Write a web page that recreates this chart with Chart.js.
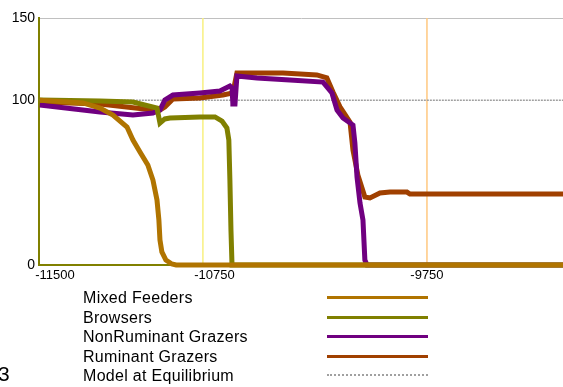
<!DOCTYPE html>
<html>
<head>
<title>Herbivore Populations</title>
<script src="https://cdn.jsdelivr.net/npm/chart.js"></script>
<style>
  body { margin: 0; width: 563px; height: 387px; overflow: hidden; background: #fff; position: relative;
         font-family: "Liberation Sans", Arial, sans-serif; }
  #chart { position: absolute; left: 0; top: 0; }
  #legend { position: absolute; left: 83px; top: 288px; }
  .row { position: relative; height: 19.5px; font-size: 16px; line-height: 19.5px; letter-spacing: 0.3px; color: #000; }
  .swatch { position: absolute; left: 244px; top: 8px; width: 101px; height: 0; }
  #corner { position: absolute; left: -2px; top: 362px; font-size: 21px; }
</style>
</head>
<body>
<canvas id="chart" width="563" height="290"></canvas>
<div id="legend"></div>
<div id="corner">3</div>
<script>
  // axis range and ticks
  const xMin = -11575;
  const xMax = -9110;
  const xTicks = [-11500, -10750, -9750, -9000];
  const yTicks = [0, 100, 150];

  const seriesNames = ['Mixed Feeders', 'Browsers', 'NonRuminant Grazers', 'Ruminant Grazers', 'Model at Equilibrium'];
  const seriesColors = ['#b07400', '#808000', '#700080', '#a04000', '#a0a0a0'];

  const mixedX = [-11571, -11368, -11288, -11227, -11161, -11133, -11100, -11063, -11039, -11020, -11011, -11006, -10997, -10978, -10950, -10930, -9000];
  const mixedY = [100, 98.4, 95.3, 91.1, 83.8, 75.9, 68.6, 60.7, 51.6, 39.5, 27.3, 15.2, 7.9, 3, 0.6, 0, 0];

  const browsersX = [-11571, -11288, -11133, -11020, -11006, -10983, -10959, -10818, -10747, -10714, -10691, -10682, -10677, -10672, -10667, -9000];
  const browsersY = [100.2, 99.6, 99, 95.3, 86.2, 88.7, 89.3, 89.9, 89.9, 87.4, 83.2, 75.9, 51.6, 21.3, 0, 0];

  const nonRumX = [-11571, -11288, -11133, -11039, -11006, -10983, -10945, -10818, -10724, -10677, -10667, -10663, -10653, -10644, -10550, -10395, -10239, -10197, -10173, -10145, -10098, -10089, -10079, -10065, -10051, -10042, -10032, -9000];
  const nonRumY = [97.2, 92.9, 91.1, 92.3, 94.1, 100.2, 103.2, 104.5, 105.7, 108.7, 107.5, 97.8, 97.8, 114.8, 113.6, 112.4, 111.1, 104.5, 94.1, 89.3, 85, 74.1, 53.4, 37.7, 27.3, 3, 0, 0];

  const rumX = [-11571, -11288, -11039, -11006, -10983, -10945, -10818, -10710, -10663, -10644, -10427, -10268, -10221, -10192, -10159, -10112, -10098, -10075, -10042, -10018, -9971, -9924, -9844, -9830, -9000];
  const rumY = [99, 97.8, 94.1, 94.1, 96, 100.8, 101.4, 103.2, 104.5, 116.6, 116.6, 115.4, 113.6, 105.1, 96, 86.8, 69.8, 54.7, 41.3, 40.7, 43.7, 44.3, 44.3, 43.1, 43.1];

  const equilibriumX = [-11571, -9000];
  const equilibriumY = [100, 100];

  // vertical marker lines
  const markerYears = [-10804, -9750];
  const markerColors = ['#f8f080', '#ffc880'];

  const pts = (xs, ys) => xs.map((x, i) => ({ x: x, y: ys[i] }));

  const curveData = [pts(mixedX, mixedY), pts(browsersX, browsersY), pts(nonRumX, nonRumY), pts(rumX, rumY)];

  const datasets = curveData.map((d, i) => ({
    label: seriesNames[i],
    data: d,
    borderColor: seriesColors[i],
    borderWidth: 5,
    pointRadius: 0,
    tension: 0,
    clip: 6
  }));
  datasets.push({
    label: seriesNames[4],
    data: pts(equilibriumX, equilibriumY),
    borderColor: seriesColors[4],
    borderWidth: 1.5,
    borderDash: [2, 1],
    pointRadius: 0
  });
  markerYears.forEach((m, i) => {
    datasets.push({
      label: 'marker' + i,
      data: [{ x: m, y: yTicks[0] }, { x: m, y: yTicks[2] }],
      borderColor: markerColors[i],
      borderWidth: 1.5,
      pointRadius: 0
    });
  });

  const tickFont = { family: 'Liberation Sans', size: 13 };

  new Chart(document.getElementById('chart'), {
    type: 'line',
    data: { datasets: datasets },
    options: {
      responsive: false,
      animation: false,
      layout: { padding: { top: 18, left: 0, right: 0, bottom: 0 } },
      plugins: { legend: { display: false }, tooltip: { enabled: false } },
      scales: {
        x: {
          type: 'linear',
          min: xMin,
          max: xMax,
          afterBuildTicks: s => { s.ticks = xTicks.filter(v => v >= xMin && v <= xMax).map(v => ({ value: v })); },
          afterFit: s => { s.height = 25; },
          grid: { display: false, drawTicks: false },
          border: { color: '#808000', width: 2 },
          ticks: { color: '#000', font: tickFont, padding: 3, maxRotation: 0, autoSkip: false, callback: v => String(v) }
        },
        y: {
          min: 0,
          max: 150,
          afterBuildTicks: s => { s.ticks = yTicks.map(v => ({ value: v })); },
          afterFit: s => { s.width = 39; },
          grid: { drawTicks: false, color: c => (c.tick && c.tick.value === 150) ? '#c0c0c0' : 'rgba(0,0,0,0)' },
          border: { color: '#808000', width: 2 },
          ticks: { color: '#000', font: { family: 'Liberation Sans', size: 14 }, padding: 4, callback: v => String(v) }
        }
      }
    }
  });

  // legend: name on the left, line sample on the right
  const legend = document.getElementById('legend');
  seriesNames.forEach((name, i) => {
    const row = document.createElement('div');
    row.className = 'row';
    row.textContent = name;
    const sw = document.createElement('div');
    sw.className = 'swatch';
    sw.style.borderTop = i === 4 ? '2px dotted ' + seriesColors[i] : '3px solid ' + seriesColors[i];
    row.appendChild(sw);
    legend.appendChild(row);
  });
</script>
</body>
</html>
